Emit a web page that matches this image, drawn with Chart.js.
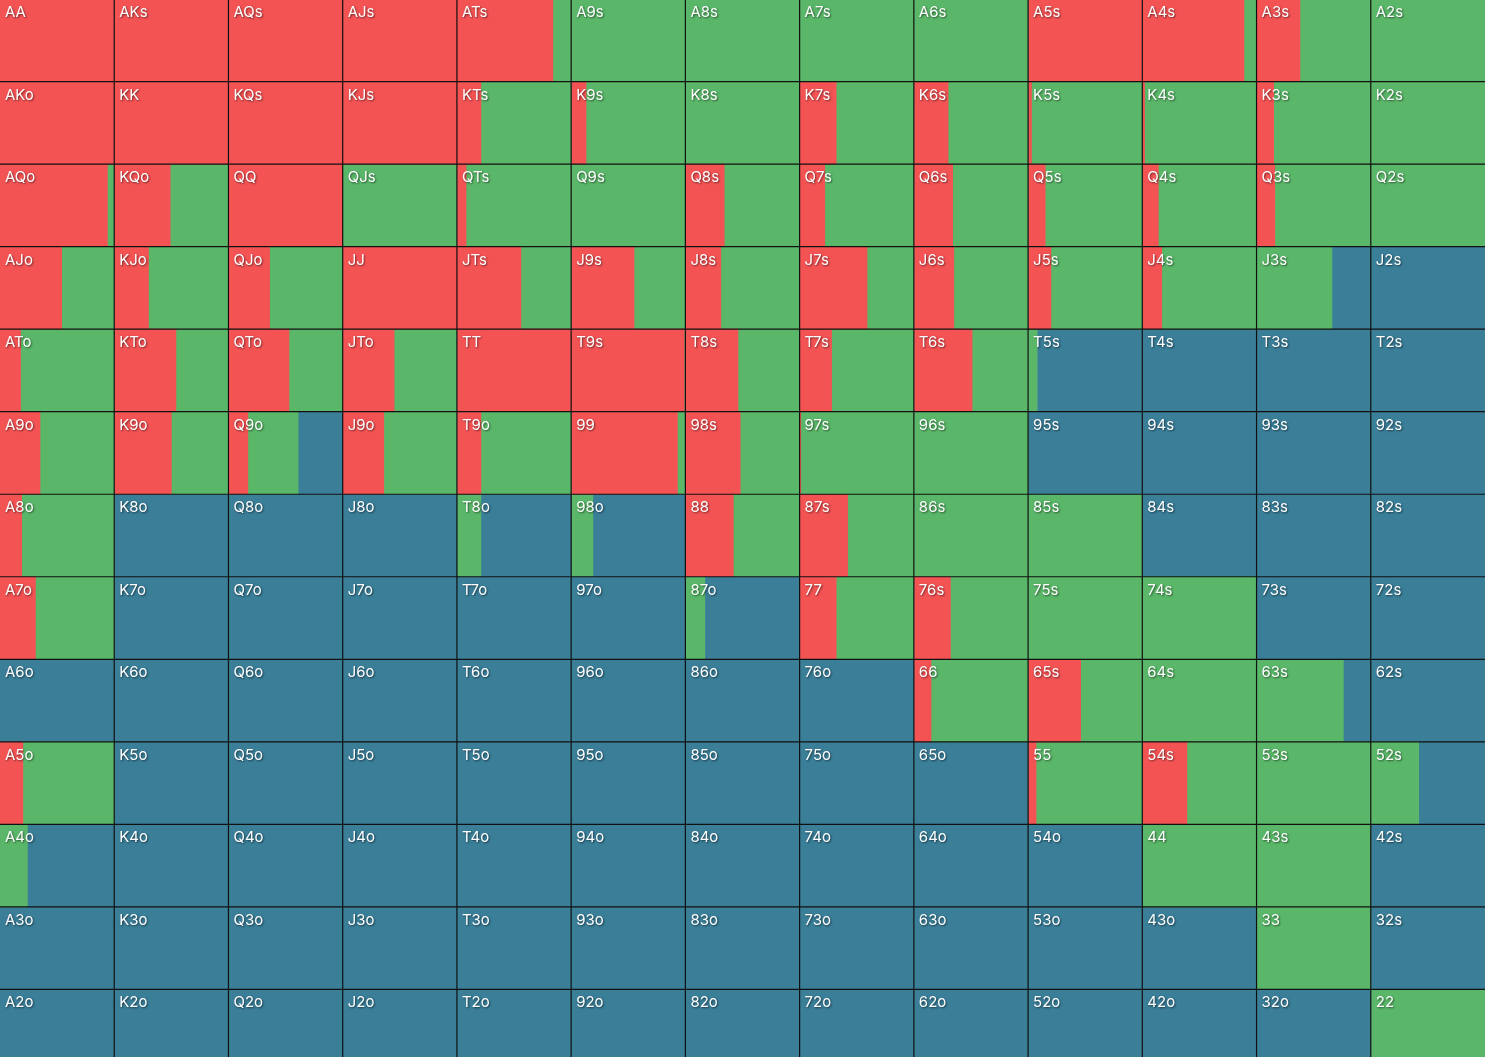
<!DOCTYPE html>
<html>
<head>
<meta charset="utf-8">
<script src="https://cdn.jsdelivr.net/npm/chart.js@4"></script>
<style>
  html, body { margin: 0; padding: 0; overflow: hidden; background: #3a7e98; }
  #wrap { position: absolute; left: 0; top: -1px; width: 1485px; height: 1073px; }
</style>
</head>
<body>
<div id="wrap"><canvas id="rangeChart"></canvas></div>
<script>
    // card ranks, high to low (rows and columns of the grid)
    var ranks = ['A', 'K', 'Q', 'J', 'T', '9', '8', '7', '6', '5', '4', '3', '2'];

    // share of each hand that is raised (red), one array per row
    var raiseA = [1, 1, 1, 1, 0.84, 0, 0, 0, 0, 1, 0.89, 0.38, 0];
    var raiseK = [1, 1, 1, 1, 0.21, 0.13, 0, 0.32, 0.30, 0.03, 0.02, 0.15, 0];
    var raiseQ = [0.94, 0.49, 1, 0, 0.08, 0, 0.34, 0.22, 0.34, 0.15, 0.14, 0.16, 0];
    var raiseJ = [0.54, 0.30, 0.36, 1, 0.56, 0.55, 0.31, 0.59, 0.35, 0.20, 0.17, 0, 0];
    var raiseT = [0.18, 0.54, 0.53, 0.45, 1, 0.99, 0.46, 0.28, 0.51, 0, 0, 0, 0];
    var raise9 = [0.35, 0.50, 0.17, 0.36, 0.21, 0.93, 0.48, 0.01, 0, 0, 0, 0, 0];
    var raise8 = [0.19, 0, 0, 0, 0, 0, 0.42, 0.42, 0, 0, 0, 0, 0];
    var raise7 = [0.31, 0, 0, 0, 0, 0, 0, 0.32, 0.32, 0, 0, 0, 0];
    var raise6 = [0, 0, 0, 0, 0, 0, 0, 0, 0.15, 0.46, 0, 0, 0];
    var raise5 = [0.20, 0, 0, 0, 0, 0, 0, 0, 0, 0.07, 0.39, 0, 0];
    var raise4 = [0, 0, 0, 0, 0, 0, 0, 0, 0, 0, 0, 0, 0];
    var raise3 = [0, 0, 0, 0, 0, 0, 0, 0, 0, 0, 0, 0, 0];
    var raise2 = [0, 0, 0, 0, 0, 0, 0, 0, 0, 0, 0, 0, 0];

    // share of each hand that is called (green)
    var callA = [0, 0, 0, 0, 0.16, 1, 1, 1, 1, 0, 0.11, 0.62, 1];
    var callK = [0, 0, 0, 0, 0.79, 0.87, 1, 0.68, 0.70, 0.97, 0.98, 0.85, 1];
    var callQ = [0.06, 0.51, 0, 1, 0.92, 1, 0.66, 0.78, 0.66, 0.85, 0.86, 0.84, 1];
    var callJ = [0.46, 0.70, 0.64, 0, 0.44, 0.45, 0.69, 0.41, 0.65, 0.80, 0.83, 0.66, 0];
    var callT = [0.82, 0.46, 0.47, 0.55, 0, 0.01, 0.54, 0.72, 0.49, 0.08, 0, 0, 0];
    var call9 = [0.65, 0.50, 0.44, 0.64, 0.79, 0.07, 0.52, 0.99, 1, 0, 0, 0, 0];
    var call8 = [0.81, 0, 0, 0, 0.21, 0.19, 0.58, 0.58, 1, 1, 0, 0, 0];
    var call7 = [0.69, 0, 0, 0, 0, 0, 0.17, 0.68, 0.68, 1, 1, 0, 0];
    var call6 = [0, 0, 0, 0, 0, 0, 0, 0, 0.85, 0.54, 1, 0.76, 0];
    var call5 = [0.80, 0, 0, 0, 0, 0, 0, 0, 0, 0.93, 0.61, 1, 0.42];
    var call4 = [0.24, 0, 0, 0, 0, 0, 0, 0, 0, 0, 1, 1, 0];
    var call3 = [0, 0, 0, 0, 0, 0, 0, 0, 0, 0, 0, 1, 0];
    var call2 = [0, 0, 0, 0, 0, 0, 0, 0, 0, 0, 0, 0, 1];

    var raiseRows = [raiseA, raiseK, raiseQ, raiseJ, raiseT, raise9, raise8, raise7, raise6, raise5, raise4, raise3, raise2];
    var callRows = [callA, callK, callQ, callJ, callT, call9, call8, call7, call6, call5, call4, call3, call2];

    var RAISE = '#f45354';
    var CALL = '#5ab769';
    var FOLD = '#3a7e98';

    function handName(r, c) {
        if (r === c) return ranks[r] + ranks[c];
        if (c > r) return ranks[r] + ranks[c] + 's';
        return ranks[c] + ranks[r] + 'o';
    }

    // [start, end] or null when the segment is empty
    function seg(from, to) {
        return to - from > 0.0001 ? [from, to] : null;
    }

    // one floating bar dataset per column and action
    var datasets = [];
    for (var c = 0; c < 13; c++) {
        var rData = [], cData = [], fData = [];
        for (var r = 0; r < 13; r++) {
            var a = raiseRows[r][c];
            var b = callRows[r][c];
            rData.push(seg(c, c + a));
            cData.push(seg(c + a, c + a + b));
            fData.push(seg(c + a + b, c + 1));
        }
        datasets.push({ data: rData, backgroundColor: RAISE });
        datasets.push({ data: cData, backgroundColor: CALL });
        datasets.push({ data: fData, backgroundColor: FOLD });
    }
    datasets.forEach(function (d) {
        d.grouped = false;
        d.barPercentage = 1;
        d.categoryPercentage = 1;
        d.borderWidth = 0;
    });

    var gridAndLabels = {
        id: 'gridAndLabels',
        afterDatasetsDraw: function (chart) {
            var ctx = chart.ctx;
            var xs = chart.scales.x, ys = chart.scales.y;
            var area = chart.chartArea;
            var rowTop = function (r) {
                if (r === 0) return area.top;
                if (r === 13) return area.bottom;
                return (ys.getPixelForValue(r - 1) + ys.getPixelForValue(r)) / 2;
            };
            ctx.save();
            ctx.strokeStyle = '#111';
            ctx.lineWidth = 1.2;
            ctx.beginPath();
            for (var i = 1; i < 13; i++) {
                var x = xs.getPixelForValue(i);
                ctx.moveTo(x, area.top);
                ctx.lineTo(x, area.bottom);
                var y = rowTop(i);
                ctx.moveTo(area.left, y);
                ctx.lineTo(area.right, y);
            }
            ctx.stroke();

            ctx.font = '15px Inter, "Noto Sans", sans-serif';
            ctx.fillStyle = '#ffffff';
            ctx.textBaseline = 'alphabetic';
            ctx.shadowColor = 'rgba(0,0,0,0.55)';
            ctx.shadowBlur = 2;
            ctx.shadowOffsetX = 1;
            ctx.shadowOffsetY = 1;
            for (var r = 0; r < 13; r++) {
                for (var c = 0; c < 13; c++) {
                    ctx.fillText(handName(r, c), xs.getPixelForValue(c) + 5, rowTop(r) + 18);
                }
            }
            ctx.restore();
        }
    };

    var ctx = document.getElementById('rangeChart').getContext('2d');
    var rangeChart = new Chart(ctx, {
        type: 'bar',
        data: {
            labels: ranks,
            datasets: datasets
        },
        options: {
            indexAxis: 'y',
            responsive: true,
            maintainAspectRatio: false,
            animation: false,
            layout: { padding: 0 },
            plugins: {
                legend: { display: false },
                tooltip: { enabled: false }
            },
            scales: {
                x: { type: 'linear', min: 0, max: 13, display: false },
                y: { type: 'category', display: false, offset: true }
            }
        },
        plugins: [gridAndLabels]
    });
</script>
</body>
</html>
